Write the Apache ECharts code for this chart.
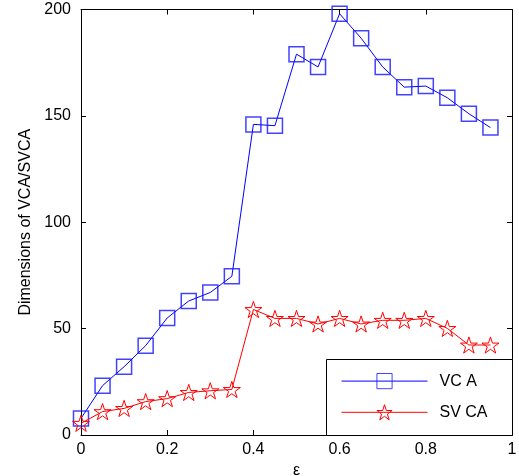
<!DOCTYPE html>
<html>
<head>
    <meta http-equiv="Content-Type" content="text/html; charset=utf-8" />
    <title>Dimensions of VCA/SVCA</title>
    <script src="https://cdn.jsdelivr.net/npm/echarts@6/dist/echarts.min.js"></script>
</head>
<body style="margin:0;padding:0;background:#ffffff;">
    <div id="main" style="width:519px;height:476px;"></div>
    <script type="text/javascript">
        // data
        var eps = [0, 0.05, 0.1, 0.15, 0.2, 0.25, 0.3, 0.35, 0.4, 0.45, 0.5, 0.55, 0.6, 0.65, 0.7, 0.75, 0.8, 0.85, 0.9, 0.95];
        var vca = [7.8, 23.2, 32.1, 42, 55, 63, 67, 74.6, 146, 145.4, 179, 173, 198, 186.5, 173, 163.5, 164, 158.5, 151, 144.5];
        var svca = [5.5, 11, 12.5, 15.7, 17.1, 20, 20.8, 21.4, 59, 54.8, 54.8, 52.2, 54.8, 52.2, 53.9, 53.9, 54.8, 50.1, 42.3, 42.3];
        var xTicks = [0, 0.2, 0.4, 0.6, 0.8, 1];
        var yTicks = [0, 50, 100, 150, 200];

        var FONT = '"Liberation Sans", Arial, Helvetica, sans-serif';
        var SQUARE = 'path://M0,0L10,0L10,10L0,10Z';
        var STAR = 'path://M50,0L61.17,34.63L97.55,34.55L68.07,55.87L79.39,90.45L50,69L20.61,90.45L31.93,55.87L2.45,34.55L38.83,34.63Z';

        function pairs(xs, ys) {
            var out = [];
            for (var i = 0; i < xs.length; i++) out.push([xs[i], ys[i]]);
            return out;
        }

        function makeX(pos, showLabel) {
            return {
                type: 'value', position: pos, min: xTicks[0], max: xTicks[xTicks.length - 1],
                interval: xTicks[1] - xTicks[0],
                name: showLabel ? 'ε' : '', nameLocation: 'middle', nameGap: 23,
                nameTextStyle: { color: '#000', fontSize: 16, fontFamily: FONT },
                axisLine: { show: true, onZero: false, lineStyle: { color: '#000', width: 1 } },
                axisTick: { show: true, inside: true, length: 5, lineStyle: { color: '#000' } },
                axisLabel: { show: showLabel, color: '#000', fontSize: 16, fontFamily: FONT, margin: 7,
                    formatter: function (v) { return String(Math.round(v * 10) / 10); } },
                splitLine: { show: false }
            };
        }

        function makeY(pos, showLabel) {
            return {
                type: 'value', position: pos, min: yTicks[0], max: yTicks[yTicks.length - 1],
                interval: yTicks[1] - yTicks[0],
                name: showLabel ? 'Dimensions of VCA/SVCA' : '', nameLocation: 'middle', nameGap: 46, nameRotate: 90,
                nameTextStyle: { color: '#000', fontSize: 16, fontFamily: FONT },
                axisLine: { show: true, onZero: false, lineStyle: { color: '#000', width: 1 } },
                axisTick: { show: true, inside: true, length: 5, lineStyle: { color: '#000' } },
                axisLabel: { show: showLabel, color: '#000', fontSize: 16, fontFamily: FONT, margin: 10 },
                splitLine: { show: false }
            };
        }

        var chart = echarts.init(document.getElementById('main'));
        var option = {
            backgroundColor: '#ffffff',
            animation: false,
            grid: { left: 81, right: 7, top: 9.5, bottom: 41, outerBoundsMode: 'none', containLabel: false },
            xAxis: [makeX('bottom', true), makeX('top', false)],
            yAxis: [makeY('left', true), makeY('right', false)],
            graphic: [{
                type: 'rect', left: 326, top: 359, z: 3,
                shape: { width: 186, height: 76 },
                style: { fill: '#ffffff', stroke: '#000000', lineWidth: 1 }
            }],
            legend: {
                orient: 'vertical', left: 341, top: 373, padding: 0, z: 10,
                itemWidth: 86, itemHeight: 19, itemGap: 15,
                itemStyle: { color: 'rgba(0,0,0,0)', borderWidth: 1 },
                lineStyle: { width: 1 },
                textStyle: { color: '#000', fontSize: 16, fontFamily: FONT, padding: [0, 0, 0, 7] },
                data: ['VC A', 'SV CA']
            },
            series: [
                {
                    name: 'VC A', type: 'line', data: pairs(eps, vca), z: 4,
                    symbol: SQUARE, symbolSize: 15, showAllSymbol: true,
                    lineStyle: { color: '#0000ff', width: 1 },
                    itemStyle: { color: 'rgba(0,0,0,0)', borderColor: 'rgba(20,20,255,0.8)', borderWidth: 1.5 }
                },
                {
                    name: 'SV CA', type: 'line', data: pairs(eps, svca), z: 5,
                    symbol: STAR, symbolSize: 17, symbolKeepAspect: true, showAllSymbol: true,
                    lineStyle: { color: '#ff0000', width: 1 },
                    itemStyle: { color: 'rgba(0,0,0,0)', borderColor: '#ff0000', borderWidth: 1 }
                }
            ]
        };
        chart.setOption(option);
    </script>
</body>
</html>
